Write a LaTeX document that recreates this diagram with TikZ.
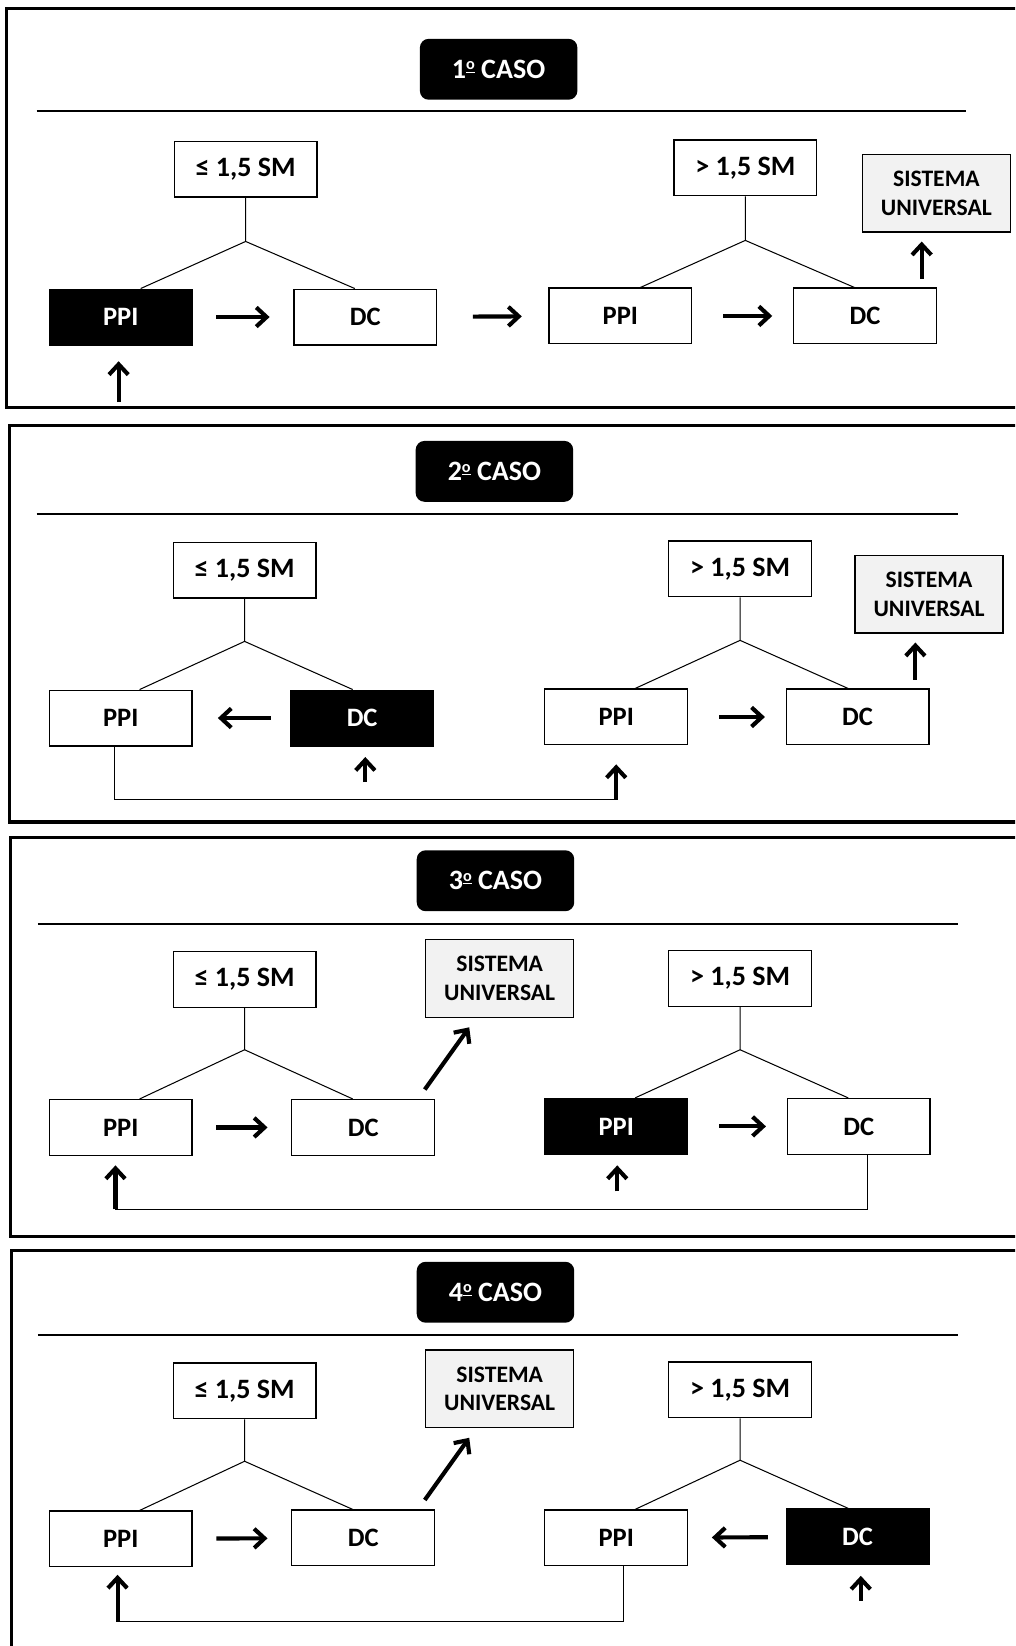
\documentclass[tikz,border=0pt]{standalone}
\usepackage{fontspec}
\setmainfont{Carlito}
\usetikzlibrary{arrows.meta,calc}
\definecolor{unigray}{RGB}{242,242,242}
\newcommand{\ordo}{\raisebox{0.62ex}{\fontsize{11}{11}\selectfont\underline{o}}}
\begin{document}
\begin{tikzpicture}[x=0.025cm,y=-0.025cm,
	box/.style={draw,line width=0.9pt,minimum width=3.4cm,minimum height=1.325cm,inner sep=0pt,font=\fontsize{18}{20}\selectfont\bfseries},
	salbox/.style={box,font=\fontsize{19}{21}\selectfont\bfseries},
	darkbox/.style={box,fill=black,text=white},
	unibox/.style={box,fill=unigray,minimum width=3.525cm,minimum height=1.85cm,align=center,font=\fontsize{16}{19.5}\selectfont\bfseries},
	casebox/.style={fill=black,text=white,rounded corners=6pt,minimum width=3.75cm,minimum height=1.45cm,font=\fontsize{19}{21}\selectfont\bfseries},
	frame/.style={line width=2.2pt},
	rule/.style={line width=1.5pt},
	branch/.style={line width=0.7pt},
	flow/.style={line width=2.8pt,-{Straight Barb[length=7pt,width=13pt]}},
	gap/.style={flow,shorten <=16pt,shorten >=16pt},
	]
	\useasboundingbox (0,0) rectangle (967,1568);
	\clip (0,0) rectangle (967,1568);

	% 1º caso
	\draw[frame] (6,8) rectangle (1000,388);
	\node[casebox] (t1) at (475,66) {1\ordo{} CASO};
	\draw[rule] (35,106) -- (920,106);
	\node[salbox] (a1) at (234,161) {≤ 1,5 SM};
	\node[darkbox] (p1) at (115,302) {PPI};
	\node[box] (d1) at (348,302) {DC};
	\node[salbox] (b1) at (710,160) {> 1,5 SM};
	\node[box] (q1) at (591,301) {PPI};
	\node[box] (e1) at (824,301) {DC};
	\node[unibox] (u1) at (892,184) {SISTEMA\\UNIVERSAL};
	\coordinate (j1) at (234,230);
	\coordinate (k1) at (710,229);
	\draw[branch] (a1.south) -- (j1) -- ($(p1.north)+(19,0)$);
	\draw[branch] (j1) -- ($(d1.north)+(-10,0)$);
	\draw[branch] (b1.south) -- (k1) -- ($(q1.north)+(19,0)$);
	\draw[branch] (k1) -- ($(e1.north)+(-10,0)$);
	\draw[gap] (p1) -- (d1);
	\draw[gap,shorten <=24pt,shorten >=18pt] (d1) -- (q1);
	\draw[gap,shorten <=21pt,shorten >=14pt] (q1) -- (e1);
	\draw[flow,shorten <=6pt,shorten >=6pt] ($(e1.north)+(54,0)$) -- ($(u1.south)+(-14,0)$);
	\coordinate (in1) at (113,383);
	\draw[flow] (in1) -- ($(p1.south)+(-2,15)$);

	% 2º caso
	\draw[frame] (9,405) rectangle (1000,783);
	\node[casebox] (t2) at (471,449) {2\ordo{} CASO};
	\draw[rule] (35,490) -- (913,490);
	\node[salbox] (a2) at (233,543) {≤ 1,5 SM};
	\node[box] (p2) at (115,684) {PPI};
	\node[darkbox] (d2) at (345,684) {DC};
	\node[salbox] (b2) at (705,542) {> 1,5 SM};
	\node[box] (q2) at (587,683) {PPI};
	\node[box] (e2) at (817,683) {DC};
	\node[unibox] (u2) at (885,566) {SISTEMA\\UNIVERSAL};
	\coordinate (j2) at (233,611);
	\coordinate (k2) at (705,610);
	\draw[branch] (a2.south) -- (j2) -- ($(p2.north)+(18,0)$);
	\draw[branch] (j2) -- ($(d2.north)+(-9,0)$);
	\draw[branch] (b2.south) -- (k2) -- ($(q2.north)+(18,0)$);
	\draw[branch] (k2) -- ($(e2.north)+(-9,0)$);
	\draw[gap,shorten <=13pt,shorten >=17pt] (d2) -- (p2);
	\draw[gap,shorten <=21pt,shorten >=14pt] (q2) -- (e2);
	\draw[flow,shorten <=6pt,shorten >=6pt] ($(e2.north)+(55,0)$) -- ($(u2.south)+(-13,0)$);
	\coordinate (in2) at (348,745);
	\draw[flow] (in2) -- ($(d2.south)+(3,10)$);
	\coordinate (c2) at (587,762);
	\draw[branch] ($(p2.south)+(-6,0)$) |- (c2);
	\draw[flow] (c2) -- ($(q2.south)+(0,18)$);

	% 3º caso
	\draw[frame] (10,798) rectangle (1000,1178);
	\node[casebox] (t3) at (472,839) {3\ordo{} CASO};
	\draw[rule] (36,880) -- (913,880);
	\node[salbox] (a3) at (233,933) {≤ 1,5 SM};
	\node[box] (p3) at (115,1074) {PPI};
	\node[box] (d3) at (346,1074) {DC};
	\node[unibox] (u3) at (476,932) {SISTEMA\\UNIVERSAL};
	\node[salbox] (b3) at (705,932) {> 1,5 SM};
	\node[darkbox] (q3) at (587,1073) {PPI};
	\node[box] (e3) at (818,1073) {DC};
	\coordinate (j3) at (233,1000);
	\coordinate (k3) at (705,1000);
	\draw[branch] (a3.south) -- (j3) -- ($(p3.north)+(18,0)$);
	\draw[branch] (j3) -- ($(d3.north)+(-10,0)$);
	\draw[branch] (b3.south) -- (k3) -- ($(q3.north)+(18,0)$);
	\draw[branch] (k3) -- ($(e3.north)+(-10,0)$);
	\draw[gap] (p3) -- (d3);
	\draw[gap,shorten <=21pt,shorten >=14pt] (q3) -- (e3);
	\draw[flow] ($(d3.north east)+(-10,-9)$) -- ($(u3.south)+(-29,9)$);
	\coordinate (in3) at (588,1135);
	\draw[flow] (in3) -- ($(q3.south)+(1,10)$);
	\coordinate (c3) at (110,1152);
	\draw[branch] ($(e3.south)+(8,0)$) |- (c3);
	\draw[flow] (c3) -- ($(p3.south)+(-5,9)$);

	% 4º caso
	\draw[frame] (11,1191) rectangle (1000,1600);
	\node[casebox] (t4) at (472,1231) {4\ordo{} CASO};
	\draw[rule] (36,1272) -- (913,1272);
	\node[salbox] (a4) at (233,1325) {≤ 1,5 SM};
	\node[box] (p4) at (115,1466) {PPI};
	\node[box] (d4) at (346,1465) {DC};
	\node[unibox] (u4) at (476,1323) {SISTEMA\\UNIVERSAL};
	\node[salbox] (b4) at (705,1324) {> 1,5 SM};
	\node[box] (q4) at (587,1465) {PPI};
	\node[darkbox] (e4) at (817,1464) {DC};
	\coordinate (j4) at (233,1392);
	\coordinate (k4) at (705,1391);
	\draw[branch] (a4.south) -- (j4) -- ($(p4.north)+(18,0)$);
	\draw[branch] (j4) -- ($(d4.north)+(-10,0)$);
	\draw[branch] (b4.south) -- (k4) -- ($(q4.north)+(18,0)$);
	\draw[branch] (k4) -- ($(e4.north)+(-9,0)$);
	\draw[gap] (p4) -- (d4);
	\draw[gap,shorten <=12pt,shorten >=16pt] (e4) -- (q4);
	\draw[flow] ($(d4.north east)+(-10,-9)$) -- ($(u4.south)+(-29,9)$);
	\coordinate (in4) at (820,1525);
	\draw[flow] (in4) -- ($(e4.south)+(3,10)$);
	\coordinate (c4) at (112,1545);
	\draw[branch] ($(q4.south)+(7,0)$) |- (c4);
	\draw[flow] (c4) -- ($(p4.south)+(-3,7)$);
\end{tikzpicture}
\end{document}
